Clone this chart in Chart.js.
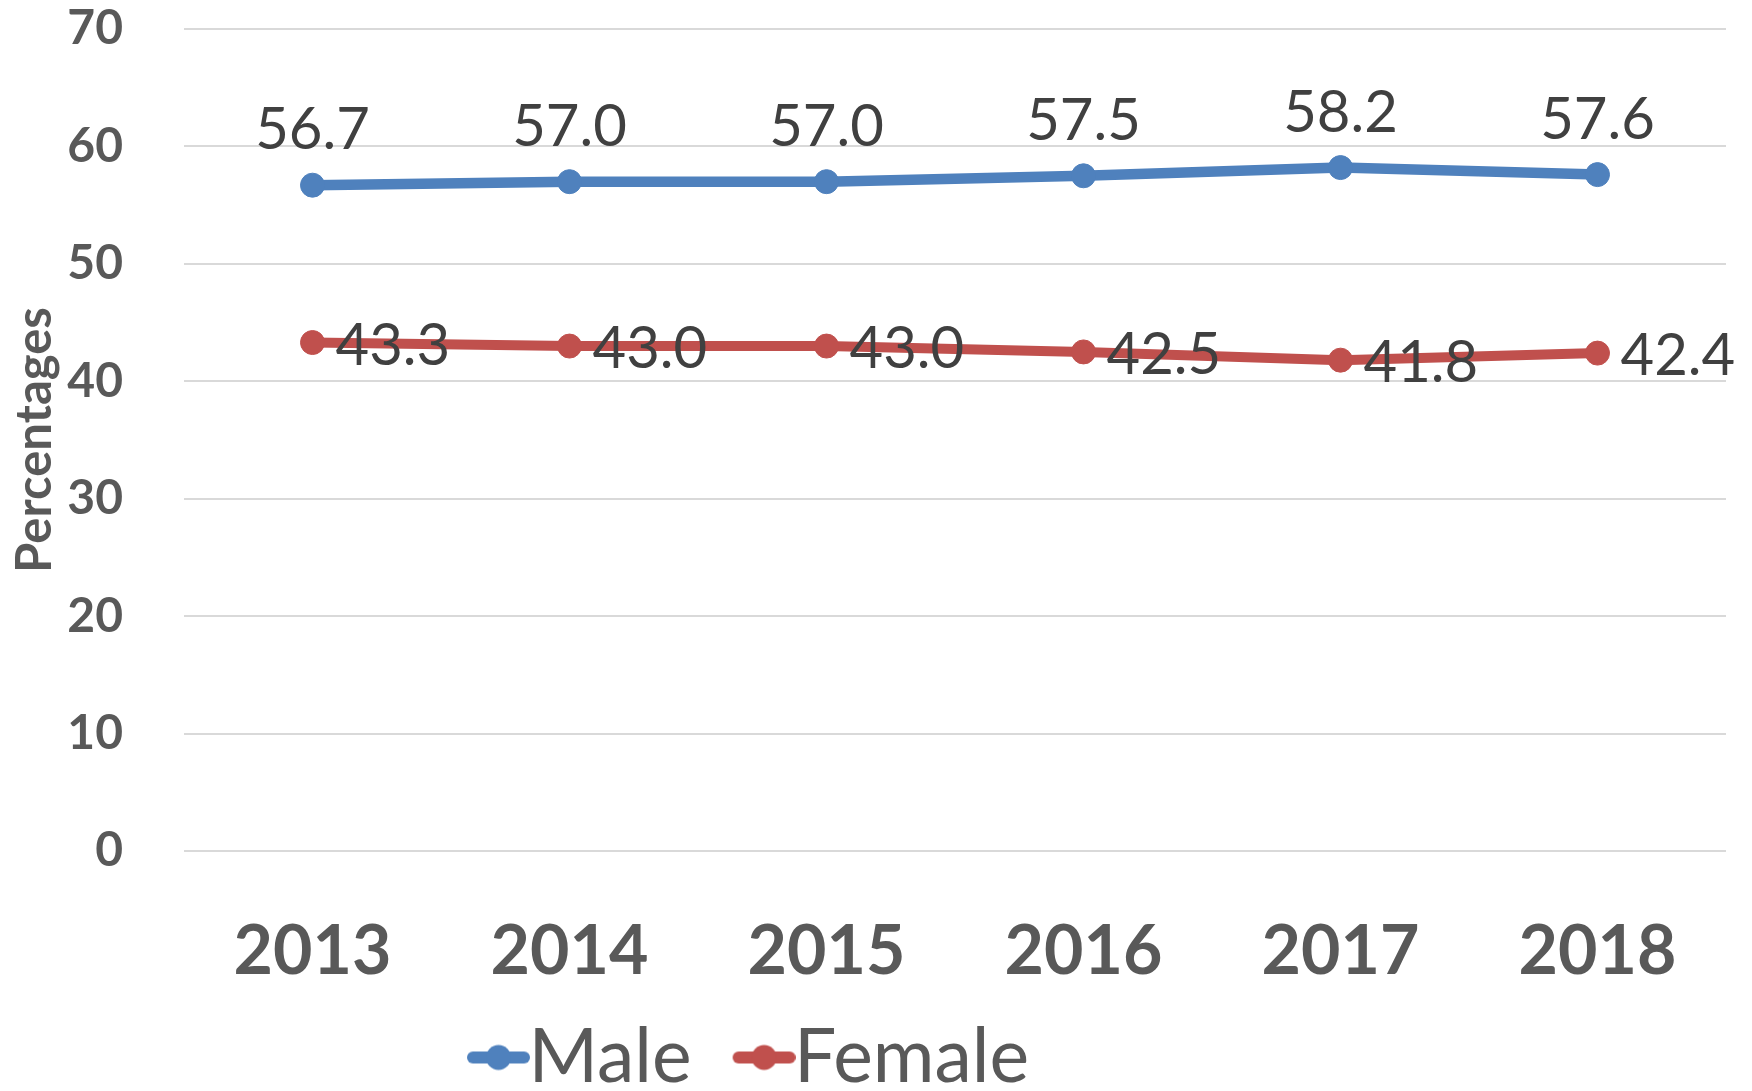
<!DOCTYPE html>
<html>
<head>
<meta charset="utf-8">
<script src="https://cdn.jsdelivr.net/npm/chart.js@4.4.1/dist/chart.umd.min.js"></script>
<style>
html,body{margin:0;padding:0;background:#fff;}
#wrap{width:1752px;height:1091px;position:relative;}
</style>
</head>
<body>
<div id="wrap"><canvas id="c" width="1752" height="1091"></canvas></div>
<script>
const categories = ['2013','2014','2015','2016','2017','2018'];
const maleValues = [56.7, 57.0, 57.0, 57.5, 58.2, 57.6];
const femaleValues = [43.3, 43.0, 43.0, 42.5, 41.8, 42.4];
const seriesNames = ['Male','Female'];
const yTitle = 'Percentages';

const BLUE = '#4F81BD';
const RED = '#C0504D';
const FONT = 'Lato, "Open Sans", "Noto Sans", sans-serif';

// legend marker image: transparent left part, visible line+dot on the right 63px
function legendMarker(color){
  const c = document.createElement('canvas');
  c.width = 80; c.height = 28;
  const g = c.getContext('2d');
  g.strokeStyle = color; g.lineWidth = 12; g.lineCap = 'round';
  g.beginPath(); g.moveTo(23, 14); g.lineTo(74, 14); g.stroke();
  g.fillStyle = color;
  g.beginPath(); g.arc(48.5, 14, 12.5, 0, Math.PI*2); g.fill();
  return c;
}
const markers = [legendMarker(BLUE), legendMarker(RED)];

const dataLabels = {
  id: 'dataLabels',
  afterDatasetsDraw(chart){
    const ctx = chart.ctx;
    ctx.save();
    ctx.font = '58px ' + FONT;
    ctx.fillStyle = '#404040';
    ctx.textBaseline = 'alphabetic';
    chart.data.datasets.forEach((ds, di) => {
      const meta = chart.getDatasetMeta(di);
      meta.data.forEach((pt, i) => {
        const txt = ds.data[i].toFixed(1);
        if (di === 0) {
          ctx.textAlign = 'center';
          ctx.fillText(txt, pt.x, pt.y - 36);
        } else {
          ctx.textAlign = 'left';
          ctx.fillText(txt, pt.x + 23, pt.y + 22);
        }
      });
    });
    ctx.restore();
  }
};

const legendShift = {
  id: 'legendShift',
  afterLayout(chart){
    if (chart.legend) {
      chart.legend.left = 426;
      chart.legend.top = 957;
    }
  }
};

new Chart(document.getElementById('c'), {
  type: 'line',
  data: {
    labels: categories,
    datasets: [
      {label: seriesNames[0], data: maleValues, borderColor: BLUE, backgroundColor: BLUE,
       borderWidth: 10.5, pointRadius: 12, pointBorderWidth: 1, pointBackgroundColor: BLUE, pointBorderColor: BLUE,
       pointStyle: 'circle', tension: 0},
      {label: seriesNames[1], data: femaleValues, borderColor: RED, backgroundColor: RED,
       borderWidth: 10, pointRadius: 12, pointBorderWidth: 1, pointBackgroundColor: RED, pointBorderColor: RED,
       pointStyle: 'circle', tension: 0}
    ]
  },
  options: {
    responsive: false,
    animation: false,
    layout: {padding: {left: 0, right: 26, top: 29, bottom: 0}},
    plugins: {
      tooltip: {enabled: false},
      legend: {
        position: 'bottom',
        align: 'start',
        maxHeight: 80,
        labels: {
          usePointStyle: true,
          pointStyleWidth: 2,
          boxHeight: 28,
          padding: 63,
          color: '#595959',
          font: {family: FONT, size: 75},
          generateLabels(chart){
            return chart.data.datasets.map((ds, i) => ({
              text: ds.label, pointStyle: markers[i], fillStyle: ds.borderColor,
              strokeStyle: ds.borderColor, lineWidth: 0, hidden: false, datasetIndex: i, fontColor: '#595959'
            }));
          }
        }
      }
    },
    scales: {
      x: {
        offset: true,
        grid: {display: false, drawTicks: false},
        border: {display: false},
        ticks: {color: '#595959', font: {family: FONT, size: 68, weight: 'bold'}, padding: 60},
        afterFit(s){ s.height = 160; }
      },
      y: {
        min: 0, max: 70,
        ticks: {stepSize: 10, color: '#595959', font: {family: FONT, size: 48, weight: 'bold'}, padding: 0},
        grid: {color: '#d9d9d9', lineWidth: 2, drawTicks: true, tickLength: 61, tickColor: 'rgba(0,0,0,0)'},
        border: {display: false},
        title: {display: true, text: yTitle, color: '#595959', font: {family: FONT, size: 49, weight: 'bold'}, padding: {top: 6, bottom: 0}},
        afterFit(s){ s.width = 184; }
      }
    }
  },
  plugins: [dataLabels, legendShift]
});
</script>
</body>
</html>
